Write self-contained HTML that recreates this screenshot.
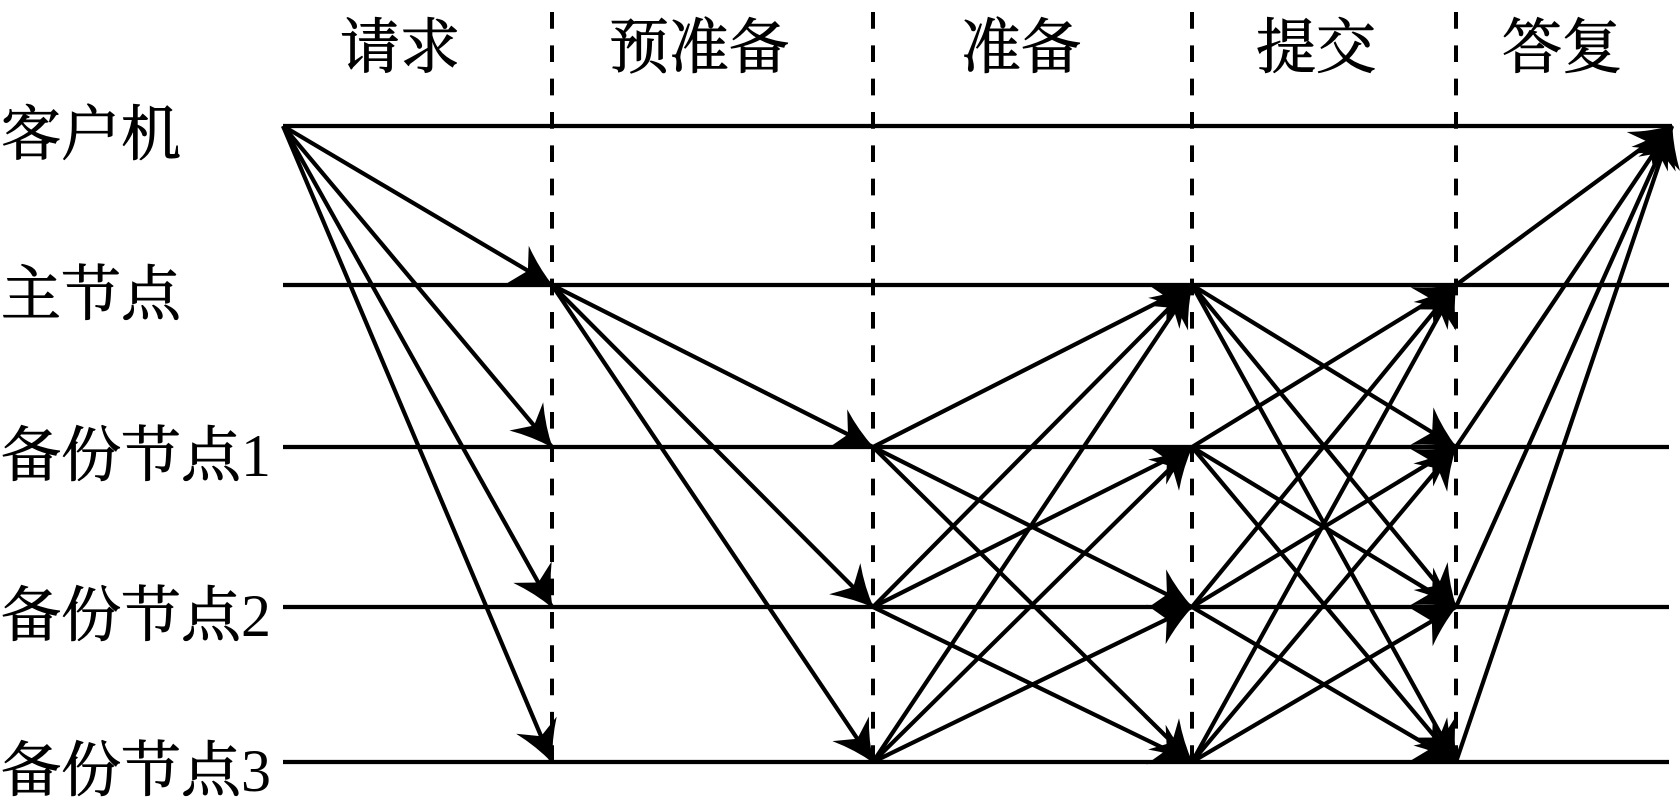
<!DOCTYPE html>
<html>
<head>
<meta charset="utf-8">
<style>
  html,body{margin:0;padding:0;background:#fff;}
  svg{display:block;}
  text{font-family:"Liberation Serif","Noto Serif CJK SC",serif;font-size:60px;fill:#000;font-weight:normal;stroke:#000;stroke-width:0.9;}
  tspan.d{stroke-width:0;}
</style>
</head>
<body>
<svg width="1680" height="806" viewBox="0 0 1680 806" xmlns="http://www.w3.org/2000/svg">
  <defs>
    <marker id="a" markerUnits="userSpaceOnUse" viewBox="-46 -26 50 52" refX="0" refY="0" markerWidth="50" markerHeight="52" orient="auto" overflow="visible">
      <path d="M1,0 Q-20,-8 -40,-22 L-28,0 L-40,22 Q-20,8 1,0 Z" fill="#000"/>
    </marker>
  </defs>

  <!-- labels top -->
  <text x="340" y="68">请求</text>
  <text x="609" y="68">预准备</text>
  <text x="961" y="68">准备</text>
  <text x="1256" y="68">提交</text>
  <text x="1502" y="68">答复</text>

  <!-- labels left -->
  <text x="1" y="155">客户机</text>
  <text x="1" y="315">主节点</text>
  <text x="1" y="476">备份节点<tspan class="d">1</tspan></text>
  <text x="1" y="636">备份节点<tspan class="d">2</tspan></text>
  <text x="1" y="791">备份节点<tspan class="d">3</tspan></text>

  <!-- dashed verticals -->
  <g stroke="#000" stroke-width="4" stroke-dasharray="16.7 16.63">
    <line x1="552" y1="12" x2="552" y2="762"/>
    <line x1="873" y1="12" x2="873" y2="762"/>
    <line x1="1192" y1="12" x2="1192" y2="762"/>
    <line x1="1456" y1="12" x2="1456" y2="762"/>
  </g>

  <!-- horizontal lines -->
  <g stroke="#000" stroke-width="4.2">
    <line x1="283" y1="126" x2="1672" y2="126"/>
    <line x1="283" y1="285" x2="1669" y2="285"/>
    <line x1="283" y1="447" x2="1669" y2="447"/>
    <line x1="283" y1="607" x2="1669" y2="607"/>
    <line x1="283" y1="762" x2="1669" y2="762"/>
  </g>

  <!-- arrows -->
  <g stroke="#000" stroke-width="4.2" marker-end="url(#a)">
    <!-- request -->
    <line x1="283" y1="126" x2="552" y2="285"/>
    <line x1="283" y1="126" x2="552" y2="447"/>
    <line x1="283" y1="126" x2="552" y2="607"/>
    <line x1="283" y1="126" x2="552" y2="762"/>
    <!-- pre-prepare -->
    <line x1="552" y1="285" x2="873" y2="447"/>
    <line x1="552" y1="285" x2="873" y2="607"/>
    <line x1="552" y1="285" x2="873" y2="762"/>
    <!-- prepare -->
    <line x1="873" y1="447" x2="1192" y2="285"/>
    <line x1="873" y1="447" x2="1192" y2="607"/>
    <line x1="873" y1="447" x2="1192" y2="762"/>
    <line x1="873" y1="607" x2="1192" y2="285"/>
    <line x1="873" y1="607" x2="1192" y2="447"/>
    <line x1="873" y1="607" x2="1192" y2="762"/>
    <line x1="873" y1="762" x2="1192" y2="285"/>
    <line x1="873" y1="762" x2="1192" y2="447"/>
    <line x1="873" y1="762" x2="1192" y2="607"/>
    <!-- commit -->
    <line x1="1192" y1="285" x2="1456" y2="447"/>
    <line x1="1192" y1="285" x2="1456" y2="607"/>
    <line x1="1192" y1="285" x2="1456" y2="762"/>
    <line x1="1192" y1="447" x2="1456" y2="285"/>
    <line x1="1192" y1="447" x2="1456" y2="607"/>
    <line x1="1192" y1="447" x2="1456" y2="762"/>
    <line x1="1192" y1="607" x2="1456" y2="285"/>
    <line x1="1192" y1="607" x2="1456" y2="447"/>
    <line x1="1192" y1="607" x2="1456" y2="762"/>
    <line x1="1192" y1="762" x2="1456" y2="285"/>
    <line x1="1192" y1="762" x2="1456" y2="447"/>
    <line x1="1192" y1="762" x2="1456" y2="607"/>
    <!-- reply -->
    <line x1="1456" y1="285" x2="1672" y2="126"/>
    <line x1="1456" y1="447" x2="1672" y2="126"/>
    <line x1="1456" y1="607" x2="1672" y2="126"/>
    <line x1="1456" y1="762" x2="1672" y2="126"/>
  </g>
</svg>
</body>
</html>
